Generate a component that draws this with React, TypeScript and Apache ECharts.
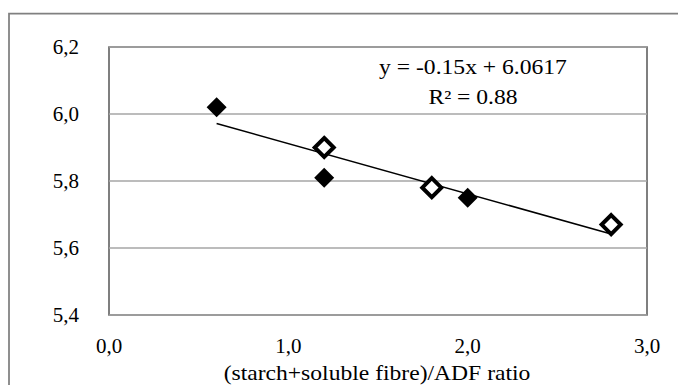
import React, { useEffect, useRef } from "react";
import * as echarts from "echarts";

const filledX = [0.6, 1.2, 2.0];
const filledY = [6.02, 5.81, 5.75];
const openX = [1.2, 1.8, 2.8];
const openY = [5.9, 5.78, 5.67];
const trendSlope = -0.15;
const trendIntercept = 6.0617;
const trendX = [0.6, 2.8];
const yTicks = { min: 5.4, max: 6.2, interval: 0.2 };
const xTicks = { min: 0, max: 3, interval: 1 };
const equationText = "y = -0.15x + 6.0617";
const r2Text = "R² = 0.88";
const xTitle = "(starch+soluble fibre)/ADF ratio";

const FONT = "Liberation Serif";

export default function App() {
  const ref = useRef<HTMLDivElement>(null);
  useEffect(() => {
    if (!ref.current) return;
    const chart = echarts.init(ref.current, null, { renderer: "svg" });
    const fmt = (v: number) => v.toFixed(1).replace(".", ",");
    chart.setOption({
      animation: false,
      backgroundColor: "#ffffff",
      grid: {
        left: 109,
        top: 47,
        right: 31,
        bottom: 70,
        show: true,
        borderColor: "#555555",
        borderWidth: 1.5,
        backgroundColor: "transparent",
      },
      xAxis: {
        type: "value",
        min: xTicks.min,
        max: xTicks.max,
        interval: xTicks.interval,
        axisLine: { show: false },
        axisTick: { show: false },
        splitLine: { show: false },
        axisLabel: {
          formatter: fmt,
          color: "#000000",
          fontSize: 21,
          fontFamily: FONT,
          margin: 20,
        },
      },
      yAxis: {
        type: "value",
        min: yTicks.min,
        max: yTicks.max,
        interval: yTicks.interval,
        axisLine: { show: false },
        axisTick: { show: false },
        splitLine: { show: true, lineStyle: { color: "#a6a6a6", width: 1.5 } },
        axisLabel: {
          formatter: fmt,
          color: "#000000",
          fontSize: 21,
          fontFamily: FONT,
          margin: 30,
        },
      },
      graphic: [
        {
          type: "rect",
          shape: { x: 9, y: 13.5, width: 700, height: 400 },
          style: { fill: "none", stroke: "#808080", lineWidth: 1.75 },
          silent: true,
          z: 0,
        },
        {
          type: "text",
          x: 473,
          y: 68,
          scaleX: 1.18,
          style: {
            text: equationText,
            fill: "#000",
            font: `20px ${FONT}`,
            textAlign: "center",
            textVerticalAlign: "middle",
          },
          z: 10,
        },
        {
          type: "text",
          x: 473,
          y: 98,
          scaleX: 1.18,
          style: {
            text: r2Text,
            fill: "#000",
            font: `20px ${FONT}`,
            textAlign: "center",
            textVerticalAlign: "middle",
          },
          z: 10,
        },
        {
          type: "text",
          x: 377,
          y: 374,
          scaleX: 1.18,
          style: {
            text: xTitle,
            fill: "#000",
            font: `20px ${FONT}`,
            textAlign: "center",
            textVerticalAlign: "middle",
          },
          z: 10,
        },
      ],
      series: [
        {
          type: "line",
          data: trendX.map((x) => [x, trendIntercept + trendSlope * x]),
          symbol: "none",
          lineStyle: { color: "#000", width: 1.5 },
          z: 2,
        },
        {
          type: "scatter",
          data: filledX.map((x, i) => [x, filledY[i]]),
          symbol: "diamond",
          symbolSize: 20,
          itemStyle: { color: "#000", opacity: 1 },
          z: 3,
        },
        {
          type: "scatter",
          data: openX.map((x, i) => [x, openY[i]]),
          symbol: "diamond",
          symbolSize: 19,
          itemStyle: { color: "#fff", borderColor: "#000", borderWidth: 4, opacity: 1 },
          z: 3,
        },
      ],
    });
    return () => chart.dispose();
  }, []);
  return (
    <div
      ref={ref}
      style={{ position: "fixed", left: 0, top: 0, width: 678, height: 385 }}
    />
  );
}
